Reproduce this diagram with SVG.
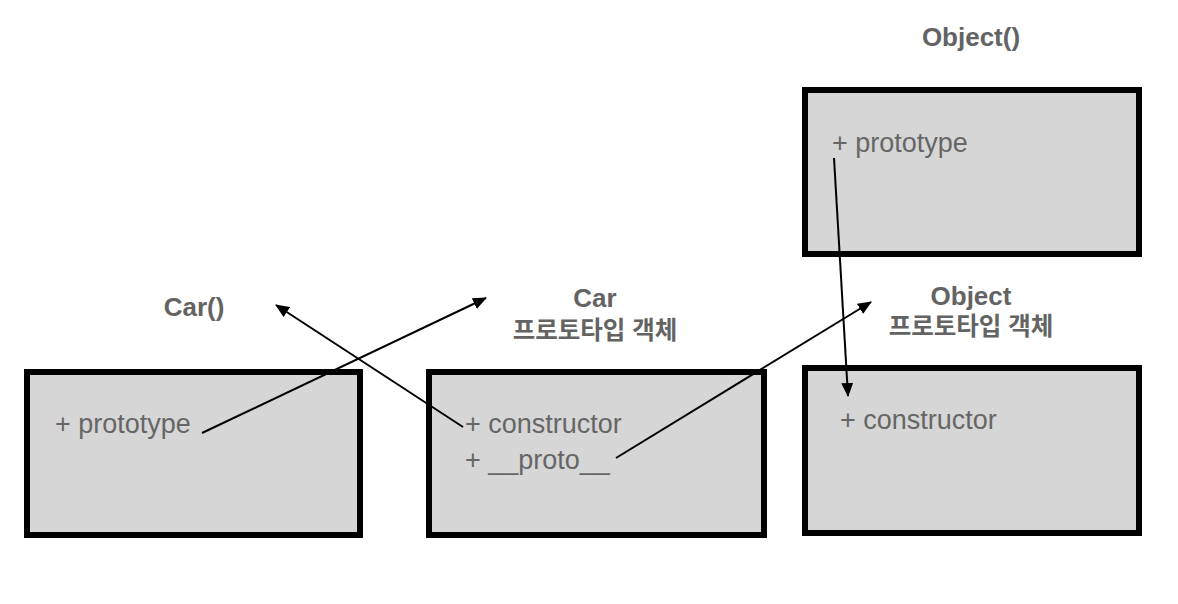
<svg xmlns="http://www.w3.org/2000/svg" width="1178" height="604" viewBox="0 0 1178 604">
<style>
.box{fill:#d6d6d6;stroke:#000;stroke-width:6}
.item{font-family:"Liberation Sans",Arial,sans-serif;font-size:27px;fill:#666}
.label{font-family:"Liberation Sans",Arial,sans-serif;font-size:26px;font-weight:bold;fill:#636363;text-anchor:middle}
.ko{font-family:"Liberation Sans","Noto Sans CJK KR",sans-serif;font-size:24.5px;font-weight:bold;fill:#636363;text-anchor:middle}
.conn{stroke:#000;stroke-width:2;fill:none;marker-end:url(#arrow)}
</style>
<defs>
<marker id="arrow" markerUnits="userSpaceOnUse" markerWidth="14" markerHeight="12" refX="13" refY="6" orient="auto">
<path d="M0,0 L14,6 L0,12 Z" fill="#000"/>
</marker>
</defs>
<rect width="1178" height="604" fill="#fff"/>
<g id="car-fn">
<text class="label" x="194" y="316">Car()</text>
<rect class="box" x="27" y="372" width="333" height="163"/>
<text class="item" x="55" y="433">+ prototype</text>
</g>
<g id="car-proto">
<text class="label" x="595" y="307">Car</text>
<text class="ko" x="595" y="339">프로토타입 객체</text>
<rect class="box" x="429" y="372" width="335" height="163"/>
<text class="item" x="465" y="433">+ constructor</text>
<text class="item" x="465" y="469">+ __proto__</text>
</g>
<g id="object-fn">
<text class="label" x="971" y="46">Object()</text>
<rect class="box" x="805" y="90" width="334" height="164"/>
<text class="item" x="832" y="152">+ prototype</text>
</g>
<g id="object-proto">
<text class="label" x="971" y="305">Object</text>
<text class="ko" x="971" y="335">프로토타입 객체</text>
<rect class="box" x="805" y="368" width="334" height="165"/>
<text class="item" x="840" y="429">+ constructor</text>
</g>
<g id="connectors">
<line class="conn" x1="202" y1="433" x2="486" y2="298"/>
<line class="conn" x1="463" y1="427" x2="276" y2="305"/>
<line class="conn" x1="616" y1="458" x2="871" y2="302"/>
<line class="conn" x1="834" y1="158" x2="848" y2="396"/>
</g>
</svg>
